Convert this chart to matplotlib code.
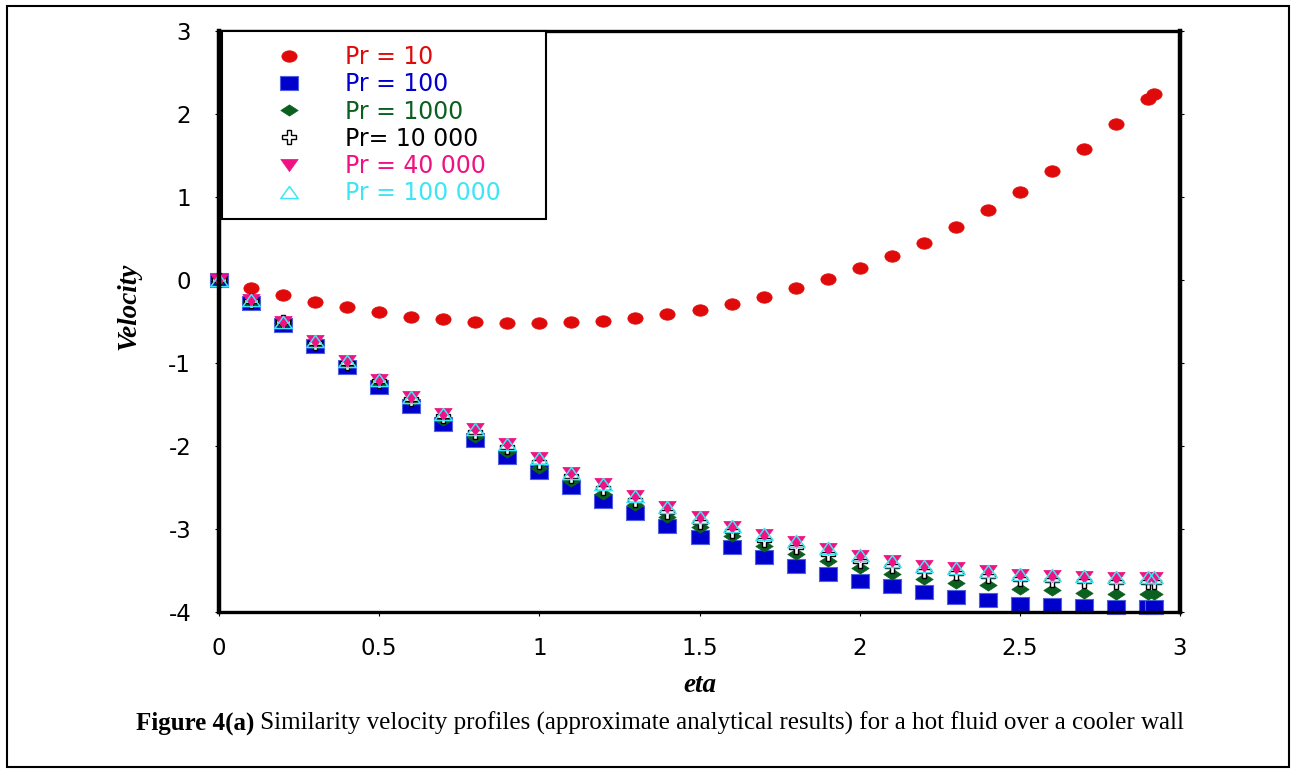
import matplotlib
matplotlib.use('Agg')
import matplotlib.pyplot as plt
import numpy as np
from matplotlib.path import Path
from matplotlib.patches import Rectangle

# ---------------- data ----------------
eta = [0.0, 0.1, 0.2, 0.3, 0.4, 0.5, 0.6, 0.7, 0.8, 0.9, 1.0, 1.1, 1.2, 1.3, 1.4,
       1.5, 1.6, 1.7, 1.8, 1.9, 2.0, 2.1, 2.2, 2.3, 2.4, 2.5, 2.6, 2.7, 2.8, 2.9, 2.92]

v_pr10 = [0.0, -0.10, -0.18, -0.26, -0.33, -0.39, -0.44, -0.47, -0.50, -0.52, -0.52,
          -0.51, -0.49, -0.46, -0.41, -0.36, -0.29, -0.20, -0.10, 0.01, 0.14, 0.29,
          0.45, 0.64, 0.84, 1.06, 1.31, 1.58, 1.88, 2.18, 2.24]
v_pr100 = [0.0, -0.28, -0.54, -0.80, -1.05, -1.29, -1.52, -1.73, -1.93, -2.13, -2.31,
           -2.49, -2.66, -2.81, -2.96, -3.10, -3.22, -3.34, -3.44, -3.54, -3.63, -3.69,
           -3.76, -3.82, -3.86, -3.90, -3.92, -3.93, -3.94, -3.94, -3.94]
v_pr1000 = [0.0, -0.26, -0.52, -0.77, -1.01, -1.24, -1.46, -1.69, -1.89, -2.07, -2.26,
            -2.42, -2.58, -2.71, -2.85, -2.97, -3.09, -3.20, -3.30, -3.38, -3.47, -3.54,
            -3.60, -3.65, -3.68, -3.72, -3.74, -3.77, -3.78, -3.78, -3.78]
v_pr10000 = [0.0, -0.25, -0.51, -0.76, -1.00, -1.22, -1.43, -1.64, -1.83, -2.01, -2.19,
             -2.36, -2.51, -2.65, -2.79, -2.91, -3.03, -3.13, -3.22, -3.30, -3.38, -3.44,
             -3.50, -3.53, -3.57, -3.60, -3.62, -3.63, -3.64, -3.64, -3.64]
v_pr40000 = [0.0, -0.24, -0.50, -0.74, -0.98, -1.20, -1.41, -1.61, -1.80, -1.98, -2.15,
             -2.32, -2.46, -2.60, -2.74, -2.85, -2.97, -3.07, -3.16, -3.24, -3.32, -3.39,
             -3.44, -3.47, -3.51, -3.55, -3.57, -3.58, -3.59, -3.59, -3.59]
v_pr100000 = [0.0, -0.24, -0.50, -0.74, -0.98, -1.20, -1.41, -1.61, -1.80, -1.98, -2.15,
              -2.32, -2.46, -2.60, -2.73, -2.85, -2.96, -3.06, -3.15, -3.23, -3.31, -3.38,
              -3.44, -3.47, -3.51, -3.54, -3.56, -3.57, -3.58, -3.58, -3.58]

labels = ["Pr = 10", "Pr = 100", "Pr = 1000", "Pr= 10 000", "Pr = 40 000", "Pr = 100 000"]
x_ticks = [0, 0.5, 1, 1.5, 2, 2.5, 3]
x_tick_labels = ["0", "0.5", "1", "1.5", "2", "2.5", "3"]
y_ticks = [-4, -3, -2, -1, 0, 1, 2, 3]

# ---------------- marker shapes ----------------
t = np.linspace(0, 2 * np.pi, 64)
ellipse = Path(np.column_stack([np.cos(t), 0.75 * np.sin(t)]))
rect = Path([(-1, -0.75), (1, -0.75), (1, 0.75), (-1, 0.75), (-1, -0.75)], closed=True)
diamond = Path([(-1, 0), (0, 0.65), (1, 0), (0, -0.65), (-1, 0)], closed=True)
tri_down = Path([(-1, 0.7), (1, 0.7), (0, -0.7), (-1, 0.7)], closed=True)
tri_up = Path([(-1, -0.7), (1, -0.7), (0, 0.7), (-1, -0.7)], closed=True)

red = '#E00A0A'
blue = '#0000CC'
green = '#0B6020'
black = '#000000'
magenta = '#F01282'
cyan = '#3EE6F5'

W, H = 1293, 771
fig = plt.figure(figsize=(W / 100, H / 100), dpi=100)
ax = fig.add_axes([219 / W, (H - 612) / H, (1180 - 219) / W, (612 - 31) / H])

series = [
    (v_pr10, dict(marker=ellipse, ms=11, mfc=red, mec=red, mew=0.5), red),
    (v_pr100, dict(marker=rect, ms=12.5, mfc=blue, mec='#5060E0', mew=0.8), blue),
    (v_pr1000, dict(marker=diamond, ms=12.5, mfc=green, mec=green, mew=0.5), green),
    (v_pr10000, dict(marker='P', ms=10, mfc='white', mec=black, mew=1.0), black),
    (v_pr40000, dict(marker=tri_down, ms=12.5, mfc=magenta, mec=magenta, mew=0.5), magenta),
    (v_pr100000, dict(marker=tri_up, ms=12.5, mfc='none', mec=cyan, mew=1.1), cyan),
]
text_colors = [red, blue, green, black, magenta, cyan]

handles = []
for (vals, kw, col), lab in zip(series, labels):
    h, = ax.plot(eta, vals, linestyle='none', label=lab, clip_on=False, **kw)
    handles.append(h)

ax.set_xlim(0, 3)
ax.set_ylim(-4, 3)
ax.set_xticks(x_ticks)
ax.set_xticklabels(x_tick_labels)
ax.set_yticks(y_ticks)
ax.set_yticklabels([str(v) for v in y_ticks])

for side in ['left', 'right']:
    ax.spines[side].set_linewidth(3.2)
for side in ['top', 'bottom']:
    ax.spines[side].set_linewidth(2.4)

ax.tick_params(axis='both', direction='out', length=3, width=0.8,
               labelsize=16.5, colors='black')
ax.tick_params(axis='x', pad=15)
ax.tick_params(axis='y', pad=17, right=True)
for lab in ax.get_xticklabels() + ax.get_yticklabels():
    lab.set_fontfamily('DejaVu Sans')

leg = ax.legend(handles=handles, loc='upper left',
                bbox_to_anchor=(0.003, 0.0, (546 - 222) / 961, 1.0), mode='expand',
                borderaxespad=0, frameon=True, fancybox=False, edgecolor='black',
                framealpha=1, numpoints=1, handlelength=4.5, handletextpad=0.1,
                borderpad=0.6, labelspacing=0.135,
                prop={'family': 'DejaVu Sans', 'size': 17})
leg.get_frame().set_linewidth(1.5)
for txt, c in zip(leg.get_texts(), text_colors):
    txt.set_color(c)

fig.text(129 / W, 1 - 306 / H, 'Velocity', rotation=90, ha='center', va='center',
         fontfamily='Liberation Serif', fontstyle='italic', fontweight='bold', fontsize=19.5)
fig.text(700 / W, 1 - 686 / H, 'eta', ha='center', va='center',
         fontfamily='Liberation Serif', fontstyle='italic', fontweight='bold', fontsize=19.5)

# caption made of a bold and a regular part
fig.canvas.draw()
r = fig.canvas.get_renderer()
cap_y = 1 - 723 / H
t1 = fig.text(0, cap_y, 'Figure 4(a)', fontfamily='Liberation Serif', fontweight='bold',
              fontsize=18, va='center', ha='left')
t2 = fig.text(0, cap_y, ' Similarity velocity profiles (approximate analytical results) '
              'for a hot fluid over a cooler wall', fontfamily='Liberation Serif',
              fontsize=18, va='center', ha='left')
w1 = t1.get_window_extent(r).width
w2 = t2.get_window_extent(r).width
x0 = 660 - (w1 + w2) / 2
t1.set_position((x0 / W, cap_y))
t2.set_position(((x0 + w1) / W, cap_y))

fig.patches.append(Rectangle((7 / W, 4 / H), (1289 - 7) / W, (765 - 4) / H,
                             transform=fig.transFigure, fill=False, ec='black', lw=1.5))

fig.savefig('out.png', dpi=100)
